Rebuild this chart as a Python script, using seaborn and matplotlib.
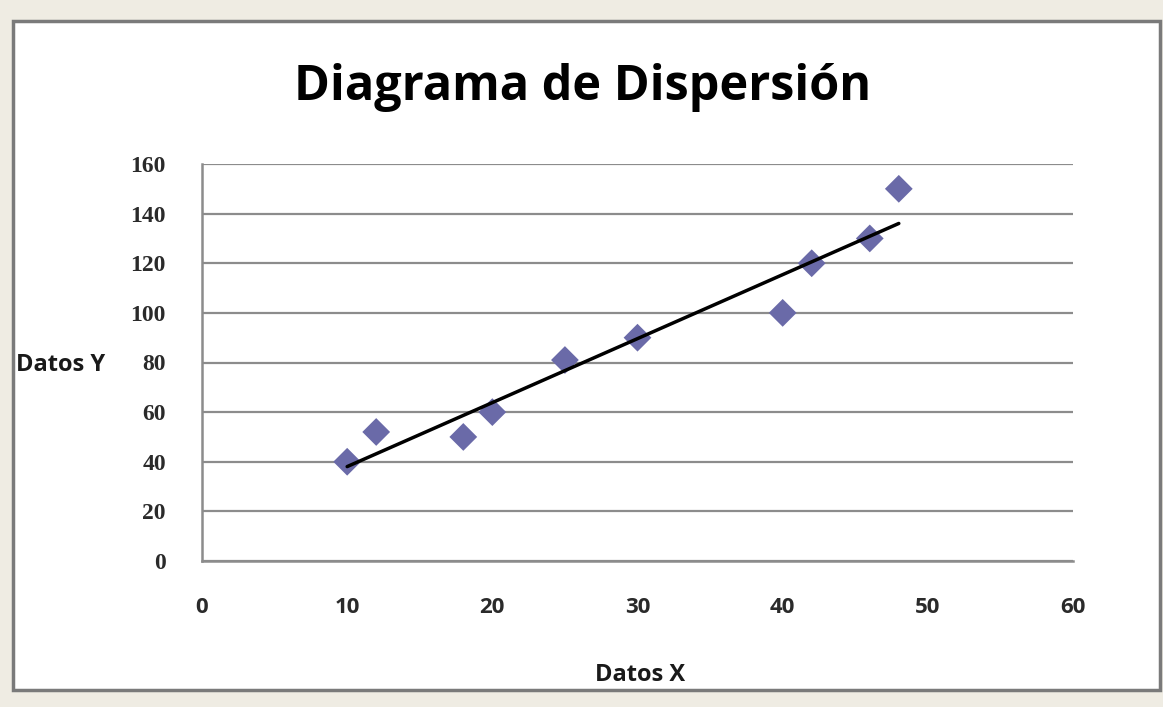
import matplotlib
matplotlib.use("Agg")
import matplotlib.pyplot as plt
import seaborn as sns
import pandas as pd
from matplotlib.patches import Rectangle

# data
datos_x = [10, 12, 18, 20, 25, 30, 40, 42, 46, 48]
datos_y = [40, 52, 50, 60, 81, 90, 100, 120, 130, 150]
x_ticks = [0, 10, 20, 30, 40, 50, 60]
y_ticks = [0, 20, 40, 60, 80, 100, 120, 140, 160]

df = pd.DataFrame({"x": datos_x, "y": datos_y})

sns.set_style("white")
plt.rcParams["font.family"] = ["Open Sans", "DejaVu Sans"]

fig = plt.figure(figsize=(11.63, 7.07), dpi=100)
fig.patch.set_facecolor("#efece3")
# white chart area with grey frame
fig.patches.append(Rectangle((13 / 1163, 1 - 690 / 707), 1147 / 1163, 669 / 707,
                             transform=fig.transFigure, facecolor="white",
                             edgecolor="#7a7a7a", linewidth=2.5, zorder=-5))

ax = fig.add_axes([202 / 1163, 1 - 561 / 707, 871 / 1163, 397 / 707])
ax.set_facecolor("none")
ax.set_zorder(2)

sns.regplot(data=df, x="x", y="y", ax=ax, ci=None, marker="D",
            scatter_kws={"s": 200, "color": "#6a6aa8", "edgecolor": "none", "alpha": 1, "zorder": 3},
            line_kws={"color": "black", "linewidth": 2.5, "zorder": 4})

ax.set_xlim(0, 60)
ax.set_ylim(0, 160)
ax.set_xticks(x_ticks)
ax.set_yticks(y_ticks)
ax.yaxis.grid(True, color="#8c8c8c", linewidth=1.6)
ax.set_axisbelow(True)
for side in ["top", "right"]:
    ax.spines[side].set_visible(False)
for side in ["left", "bottom"]:
    ax.spines[side].set_color("#8c8c8c")
    ax.spines[side].set_linewidth(1.8)

ax.tick_params(axis="x", length=0, pad=26, labelsize=16, labelcolor="#2a2a2a")
ax.tick_params(axis="y", length=0, pad=26, labelsize=15, labelcolor="#2a2a2a")
for lbl in ax.get_xticklabels():
    lbl.set_fontweight("bold")
for lbl in ax.get_yticklabels():
    lbl.set_family("Liberation Serif")
    lbl.set_fontsize(17)
    lbl.set_fontweight("bold")

ax.set_xlabel("")
ax.set_ylabel("")
fig.text(640 / 1163, 1 - 675 / 707, "Datos X", ha="center", va="center",
         fontsize=17, fontweight="bold", color="#1a1a1a")
fig.text(16 / 1163, 1 - 365 / 707, "Datos Y", ha="left", va="center",
         fontsize=17, fontweight="bold", color="#1a1a1a")
fig.text(583 / 1163, 1 - 88 / 707, "Diagrama de Dispersión", ha="center", va="center",
         fontsize=35, fontweight="bold", color="black")

fig.savefig("out.png", dpi=100, facecolor=fig.get_facecolor())
